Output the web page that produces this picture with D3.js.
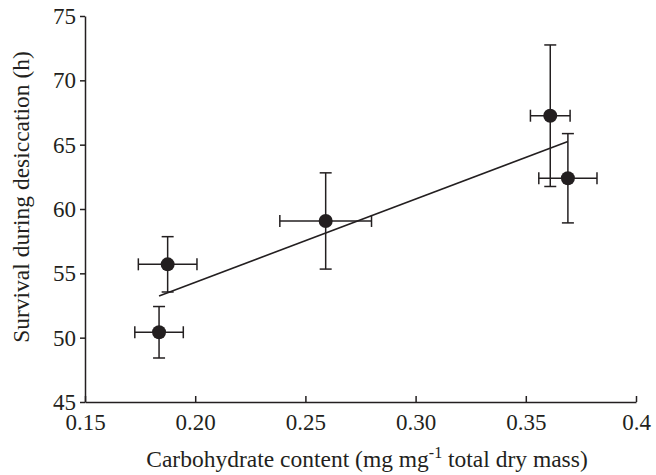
<!DOCTYPE html>
<html>
<head>
<meta charset="utf-8">
<script src="https://cdn.jsdelivr.net/npm/d3@7/dist/d3.min.js"></script>
<style>
  html, body { margin: 0; padding: 0; background: #fff; }
  svg { display: block; }
  text { font-family: "Liberation Serif", "Times New Roman", serif; fill: #231f20; }
</style>
</head>
<body>
<svg id="chart" width="656" height="475"></svg>
<script>
// Data
const carbohydrate = [0.1836, 0.1875, 0.2592, 0.3611, 0.3691];
const carbohydrateErr = [0.011, 0.0133, 0.0208, 0.009, 0.0132];
const survival = [50.42, 55.70, 59.07, 67.25, 62.39];
const survivalErr = [2.0, 2.15, 3.74, 5.5, 3.47];
const xTicks = [0.15, 0.20, 0.25, 0.30, 0.35, 0.4];
const xTickLabels = ["0.15", "0.20", "0.25", "0.30", "0.35", "0.4"];
const yTicks = [45, 50, 55, 60, 65, 70, 75];

const ink = "#231f20";
const svg = d3.select("#chart");
const x = d3.scaleLinear().domain([0.15, 0.4]).range([85, 636]);
const y = d3.scaleLinear().domain([45, 75]).range([402, 16]);

// Axes
const xAxis = d3.axisBottom(x).tickValues(xTicks)
  .tickFormat((d, i) => xTickLabels[i]).tickSizeInner(-6).tickSizeOuter(0).tickPadding(12);
const gx = svg.append("g").attr("transform", "translate(0,402)").call(xAxis);
gx.attr("font-family", null);
gx.select(".domain").attr("stroke", ink).attr("stroke-width", 1.5);
gx.selectAll(".tick line").attr("stroke", ink).attr("stroke-width", 1.5);
gx.selectAll(".tick text").attr("font-size", 23).attr("fill", ink);

const yAxis = d3.axisLeft(y).tickValues(yTicks).tickSizeInner(5).tickSizeOuter(0).tickPadding(4);
const gy = svg.append("g").attr("transform", "translate(85,0)").call(yAxis);
gy.attr("font-family", null);
gy.select(".domain").attr("stroke", ink).attr("stroke-width", 1.5);
gy.selectAll(".tick line").attr("stroke", ink).attr("stroke-width", 1.5);
gy.selectAll(".tick text").attr("font-size", 23).attr("fill", ink);

// Regression line (least squares on the data)
const n = carbohydrate.length;
const mx = d3.mean(carbohydrate), my = d3.mean(survival);
let sxy = 0, sxx = 0;
for (let i = 0; i < n; i++) {
  sxy += (carbohydrate[i] - mx) * (survival[i] - my);
  sxx += (carbohydrate[i] - mx) ** 2;
}
const slope = sxy / sxx, intercept = my - slope * mx;
const [x0, x1] = d3.extent(carbohydrate);
svg.append("line")
  .attr("x1", x(x0)).attr("y1", y(intercept + slope * x0))
  .attr("x2", x(x1)).attr("y2", y(intercept + slope * x1))
  .attr("stroke", ink).attr("stroke-width", 1.6);

// Error bars
const cap = 6;
const g = svg.append("g").attr("stroke", ink).attr("stroke-width", 1.5);
carbohydrate.forEach((cx, i) => {
  const px = x(cx), py = y(survival[i]);
  const xl = x(cx - carbohydrateErr[i]), xr = x(cx + carbohydrateErr[i]);
  const yt = y(survival[i] + survivalErr[i]), yb = y(survival[i] - survivalErr[i]);
  g.append("line").attr("x1", xl).attr("x2", xr).attr("y1", py).attr("y2", py);
  g.append("line").attr("x1", xl).attr("x2", xl).attr("y1", py - cap).attr("y2", py + cap);
  g.append("line").attr("x1", xr).attr("x2", xr).attr("y1", py - cap).attr("y2", py + cap);
  g.append("line").attr("x1", px).attr("x2", px).attr("y1", yt).attr("y2", yb);
  g.append("line").attr("x1", px - cap).attr("x2", px + cap).attr("y1", yt).attr("y2", yt);
  g.append("line").attr("x1", px - cap).attr("x2", px + cap).attr("y1", yb).attr("y2", yb);
});

// Points
svg.append("g").selectAll("circle").data(carbohydrate).join("circle")
  .attr("cx", d => x(d)).attr("cy", (d, i) => y(survival[i]))
  .attr("r", 7).attr("fill", ink);

// Axis titles
const xt = svg.append("text").attr("x", 367).attr("y", 467)
  .attr("text-anchor", "middle").attr("font-size", 23.5);
xt.append("tspan").text("Carbohydrate content (mg mg");
xt.append("tspan").text("-1").attr("font-size", 16).attr("dy", -9);
xt.append("tspan").text(" total dry mass)").attr("dy", 9);

svg.append("text").attr("transform", "translate(29,197) rotate(-90)")
  .attr("text-anchor", "middle").attr("font-size", 23.5)
  .text("Survival during desiccation (h)");
</script>
</body>
</html>
